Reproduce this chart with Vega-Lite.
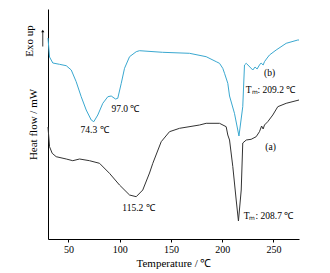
{
  "$schema": "https://vega.github.io/schema/vega-lite/v6.json",
  "width": 251,
  "height": 230,
  "autosize": {"type": "none"},
  "padding": {"left": 48, "top": 9, "right": 31, "bottom": 34},
  "background": "white",
  "config": {"view": {"stroke": null}, "font": "Liberation Serif", "axis": {"grid": false}},
  "datasets": {
    "curves": [
      {"sample": "b", "T": 30.0, "H": 20.1},
      {"sample": "b", "T": 31.5, "H": 18.2},
      {"sample": "b", "T": 34.7, "H": 17.6},
      {"sample": "b", "T": 41.2, "H": 17.47},
      {"sample": "b", "T": 47.8, "H": 17.33},
      {"sample": "b", "T": 52.7, "H": 16.9},
      {"sample": "b", "T": 57.5, "H": 15.73},
      {"sample": "b", "T": 62.4, "H": 14.23},
      {"sample": "b", "T": 67.3, "H": 12.9},
      {"sample": "b", "T": 72.2, "H": 11.9},
      {"sample": "b", "T": 74.7, "H": 11.73},
      {"sample": "b", "T": 78.6, "H": 12.4},
      {"sample": "b", "T": 83.5, "H": 13.57},
      {"sample": "b", "T": 88.4, "H": 14.23},
      {"sample": "b", "T": 91.7, "H": 14.3},
      {"sample": "b", "T": 95.9, "H": 14.0},
      {"sample": "b", "T": 98.1, "H": 14.07},
      {"sample": "b", "T": 101.5, "H": 15.57},
      {"sample": "b", "T": 104.7, "H": 17.07},
      {"sample": "b", "T": 109.6, "H": 18.23},
      {"sample": "b", "T": 116.1, "H": 18.73},
      {"sample": "b", "T": 119.3, "H": 18.83},
      {"sample": "b", "T": 141.8, "H": 18.67},
      {"sample": "b", "T": 168.1, "H": 18.57},
      {"sample": "b", "T": 184.4, "H": 18.23},
      {"sample": "b", "T": 194.2, "H": 17.73},
      {"sample": "b", "T": 197.4, "H": 17.57},
      {"sample": "b", "T": 200.6, "H": 17.07},
      {"sample": "b", "T": 202.3, "H": 16.57},
      {"sample": "b", "T": 205.5, "H": 15.57},
      {"sample": "b", "T": 207.2, "H": 14.3},
      {"sample": "b", "T": 212.0, "H": 12.57},
      {"sample": "b", "T": 216.4, "H": 10.3},
      {"sample": "b", "T": 220.1, "H": 13.23},
      {"sample": "b", "T": 221.8, "H": 17.4},
      {"sample": "b", "T": 223.5, "H": 17.57},
      {"sample": "b", "T": 229.9, "H": 16.9},
      {"sample": "b", "T": 232.1, "H": 17.2},
      {"sample": "b", "T": 234.1, "H": 17.0},
      {"sample": "b", "T": 236.4, "H": 17.4},
      {"sample": "b", "T": 238.0, "H": 17.6},
      {"sample": "b", "T": 240.0, "H": 17.4},
      {"sample": "b", "T": 241.3, "H": 17.73},
      {"sample": "b", "T": 243.9, "H": 18.1},
      {"sample": "b", "T": 246.2, "H": 18.4},
      {"sample": "b", "T": 252.7, "H": 18.9},
      {"sample": "b", "T": 262.5, "H": 19.57},
      {"sample": "b", "T": 273.8, "H": 19.9},
      {"sample": "b", "T": 275.0, "H": 19.9},
      {"sample": "a", "T": 30.0, "H": 11.2},
      {"sample": "a", "T": 31.5, "H": 9.23},
      {"sample": "a", "T": 34.1, "H": 8.57},
      {"sample": "a", "T": 38.0, "H": 8.23},
      {"sample": "a", "T": 47.8, "H": 8.0},
      {"sample": "a", "T": 54.2, "H": 7.83},
      {"sample": "a", "T": 60.8, "H": 8.0},
      {"sample": "a", "T": 70.5, "H": 7.83},
      {"sample": "a", "T": 80.3, "H": 7.57},
      {"sample": "a", "T": 90.0, "H": 6.57},
      {"sample": "a", "T": 99.8, "H": 5.4},
      {"sample": "a", "T": 109.6, "H": 4.4},
      {"sample": "a", "T": 116.1, "H": 4.23},
      {"sample": "a", "T": 122.5, "H": 4.9},
      {"sample": "a", "T": 129.1, "H": 6.6},
      {"sample": "a", "T": 132.3, "H": 7.57},
      {"sample": "a", "T": 140.5, "H": 9.73},
      {"sample": "a", "T": 148.6, "H": 10.73},
      {"sample": "a", "T": 158.4, "H": 11.07},
      {"sample": "a", "T": 177.9, "H": 11.4},
      {"sample": "a", "T": 184.4, "H": 11.57},
      {"sample": "a", "T": 197.4, "H": 11.57},
      {"sample": "a", "T": 203.9, "H": 11.23},
      {"sample": "a", "T": 205.5, "H": 10.4},
      {"sample": "a", "T": 207.2, "H": 9.9},
      {"sample": "a", "T": 210.4, "H": 7.23},
      {"sample": "a", "T": 213.7, "H": 3.9},
      {"sample": "a", "T": 215.9, "H": 1.8},
      {"sample": "a", "T": 218.6, "H": 4.9},
      {"sample": "a", "T": 220.1, "H": 9.6},
      {"sample": "a", "T": 223.5, "H": 9.9},
      {"sample": "a", "T": 228.3, "H": 9.97},
      {"sample": "a", "T": 233.2, "H": 10.23},
      {"sample": "a", "T": 236.4, "H": 10.73},
      {"sample": "a", "T": 238.5, "H": 11.3},
      {"sample": "a", "T": 240.0, "H": 11.0},
      {"sample": "a", "T": 241.3, "H": 11.4},
      {"sample": "a", "T": 244.5, "H": 11.73},
      {"sample": "a", "T": 249.4, "H": 12.4},
      {"sample": "a", "T": 254.3, "H": 13.23},
      {"sample": "a", "T": 262.5, "H": 13.57},
      {"sample": "a", "T": 275.0, "H": 13.9}
    ],
    "labels": [
      {"label": "74.3 ℃", "T": 75.4, "H": 10.9},
      {"label": "97.0 ℃", "T": 105.6, "H": 13.0},
      {"label": "115.2 ℃", "T": 118.3, "H": 3.1},
      {"label": "(b)", "T": 246.2, "H": 16.6},
      {"label": "Tₘ: 209.2 ℃", "T": 247.2, "H": 14.9},
      {"label": "(a)", "T": 247.2, "H": 9.2},
      {"label": "Tₘ: 208.7 ℃", "T": 245.2, "H": 2.3}
    ],
    "side": [
      {"label": "Exo up", "T": 12.9, "H": 19.8}
    ],
    "arrow": [
      {"T": 24.9, "H1": 19.25, "H2": 20.8}
    ]
  },
  "layer": [
    {
      "data": {"name": "curves"},
      "mark": {"type": "line", "strokeWidth": 1},
      "encoding": {
        "x": {
          "field": "T", "type": "quantitative",
          "scale": {"domain": [30, 275], "nice": false, "zero": false},
          "axis": {
            "title": "Temperature / ℃",
            "values": [50, 75, 100, 125, 150, 175, 200, 225, 250, 275],
            "labelExpr": "datum.value % 50 === 0 ? datum.label : ''",
            "domainColor": "black", "tickColor": "black", "tickSize": 3,
            "labelColor": "black", "labelFontSize": 10, "labelPadding": 2,
            "titleColor": "black", "titleFontSize": 11, "titleFontWeight": "normal", "titlePadding": 3
          }
        },
        "y": {
          "field": "H", "type": "quantitative",
          "scale": {"domain": [0, 23], "nice": false, "zero": false},
          "axis": {
            "title": "Heat flow / mW", "labels": false, "ticks": false,
            "domainColor": "black", "titleColor": "black", "titleFontSize": 11,
            "titleFontWeight": "normal", "titlePadding": 10
          }
        },
        "color": {
          "field": "sample", "type": "nominal",
          "scale": {"domain": ["a", "b"], "range": ["#333333", "#3aa8d0"]},
          "legend": null
        }
      }
    },
    {
      "data": {"name": "labels"},
      "mark": {"type": "text", "fontSize": 9.5, "color": "black"},
      "encoding": {
        "x": {"field": "T", "type": "quantitative"},
        "y": {"field": "H", "type": "quantitative"},
        "text": {"field": "label"}
      }
    },
    {
      "data": {"name": "side"},
      "mark": {"type": "text", "fontSize": 11, "angle": 270, "color": "black"},
      "encoding": {
        "x": {"field": "T", "type": "quantitative"},
        "y": {"field": "H", "type": "quantitative"},
        "text": {"field": "label"}
      }
    },
    {
      "data": {"name": "arrow"},
      "mark": {"type": "rule", "color": "black", "strokeWidth": 0.8},
      "encoding": {
        "x": {"field": "T", "type": "quantitative"},
        "y": {"field": "H1", "type": "quantitative"},
        "y2": {"field": "H2"}
      }
    },
    {
      "data": {"name": "arrow"},
      "mark": {"type": "point", "shape": "triangle-up", "filled": true, "size": 10, "color": "black", "opacity": 1},
      "encoding": {
        "x": {"field": "T", "type": "quantitative"},
        "y": {"field": "H2", "type": "quantitative"}
      }
    }
  ]
}
